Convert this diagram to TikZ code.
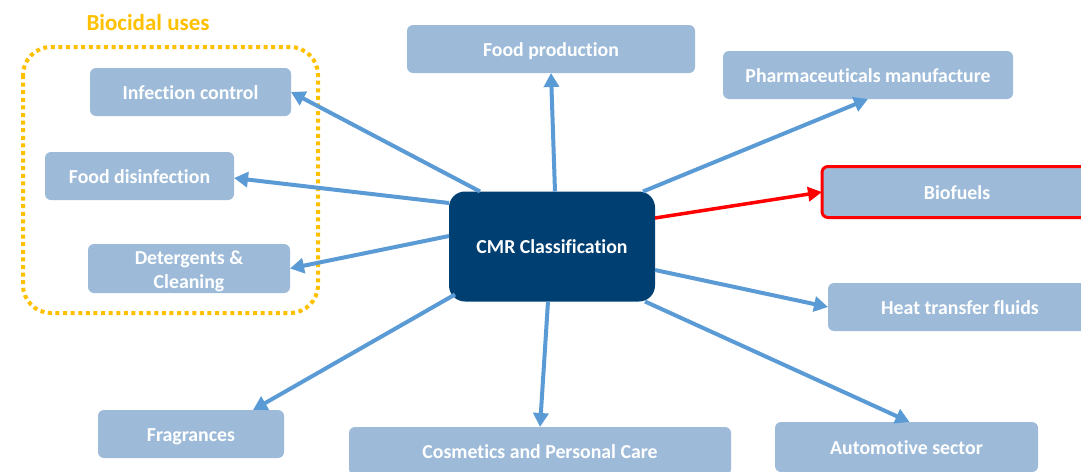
\documentclass[tikz,border=0pt]{standalone}
\usepackage{fontspec}
\setmainfont{Carlito}[Ligatures=NoCommon]
\usetikzlibrary{arrows.meta,calc}
\definecolor{boxblue}{RGB}{157,187,217}
\definecolor{arrblue}{RGB}{91,155,213}
\definecolor{navy}{RGB}{0,63,114}
\definecolor{gold}{RGB}{255,192,0}
\tikzset{
  ubox/.style={fill=boxblue, rounded corners=6pt, inner sep=0pt, outer sep=0pt,
    text=white, font=\fontsize{19.8}{24}\selectfont\bfseries, align=center,
    text height=19pt, text depth=5pt},
  arr/.style={draw=arrblue, line width=4pt, -{Triangle[length=14pt,width=15pt]}},
  redarr/.style={draw=red, line width=3.5pt, -{Triangle[length=14pt,width=14pt]}},
}
\begin{document}
\begin{tikzpicture}[x=1pt,y=-1pt]
\useasboundingbox (0,0) rectangle (1081,471);
\clip (0,0) rectangle (1081,471);
\fill[white] (0,0) rectangle (1081,471);
% biocidal group
\draw[gold, line width=4pt, dash pattern=on 4pt off 3.6pt, rounded corners=28pt]
  (23,47) rectangle (318,313);
\node[text=gold, font=\fontsize{23}{26}\selectfont\bfseries] (bio) at (148,23) {Biocidal uses};
% nodes
\node[ubox, minimum width=201pt, minimum height=48pt] (infect) at (190.5,92) {Infection control};
\node[ubox, minimum width=189pt, minimum height=48pt] (fooddis) at (139.5,176) {Food disinfection};
\node[ubox, minimum width=202pt, minimum height=49pt, text height=44pt, text depth=5pt] (deterg) at (189,268.5) {Detergents \&\\Cleaning};
\node[ubox, minimum width=288pt, minimum height=48pt] (foodprod) at (551,49) {Food production};
\node[ubox, minimum width=290pt, minimum height=48pt] (pharma) at (868,75) {Pharmaceuticals manufacture};
\node[ubox, minimum width=270pt, minimum height=51pt, draw=red, line width=3pt] (biofuels) at (957,192) {Biofuels};
\node[ubox, minimum width=264pt, minimum height=48pt] (heat) at (960,307) {Heat transfer fluids};
\node[ubox, minimum width=186pt, minimum height=48pt] (frag) at (191,434) {Fragrances};
\node[ubox, minimum width=382pt, minimum height=48pt] (cosm) at (540,451) {Cosmetics and Personal Care};
\node[ubox, minimum width=263pt, minimum height=50pt] (auto) at (906.5,447) {Automotive sector};
\node[fill=navy, rounded corners=16pt, minimum width=206pt, minimum height=110pt, inner sep=0pt, outer sep=0pt,
  text=white, font=\fontsize{19.8}{24}\selectfont\bfseries, text height=19pt, text depth=5pt] (cmr) at (552,246.5) {CMR Classification};
% connectors
\draw[arr] ($(cmr.north west)+(31,0)$) -- (infect.east);
\draw[arr] ($(cmr.west)+(0,-43.5)$) -- ($(fooddis.east)+(0,2)$);
\draw[arr] ($(cmr.west)+(0,-10.5)$) -- (deterg.east);
\draw[arr] ($(cmr.north)+(3,0)$) -- (foodprod.south);
\draw[arr] ($(cmr.north east)+(-12,0)$) -- (pharma.south);
\draw[redarr] ($(cmr.east)+(0,-28.5)$) -- (biofuels.west);
\draw[arr] ($(cmr.east)+(0,23.5)$) -- (heat.west);
\draw[arr] ($(cmr.south east)+(-10,0)$) -- ($(auto.north)+(3,0)$);
\draw[arr] ($(cmr.south)+(-4,0)$) -- (cosm.north);
\draw[arr] ($(cmr.south west)+(6,-7)$) -- ($(frag.north)+(62,0)$);
\end{tikzpicture}
\end{document}
